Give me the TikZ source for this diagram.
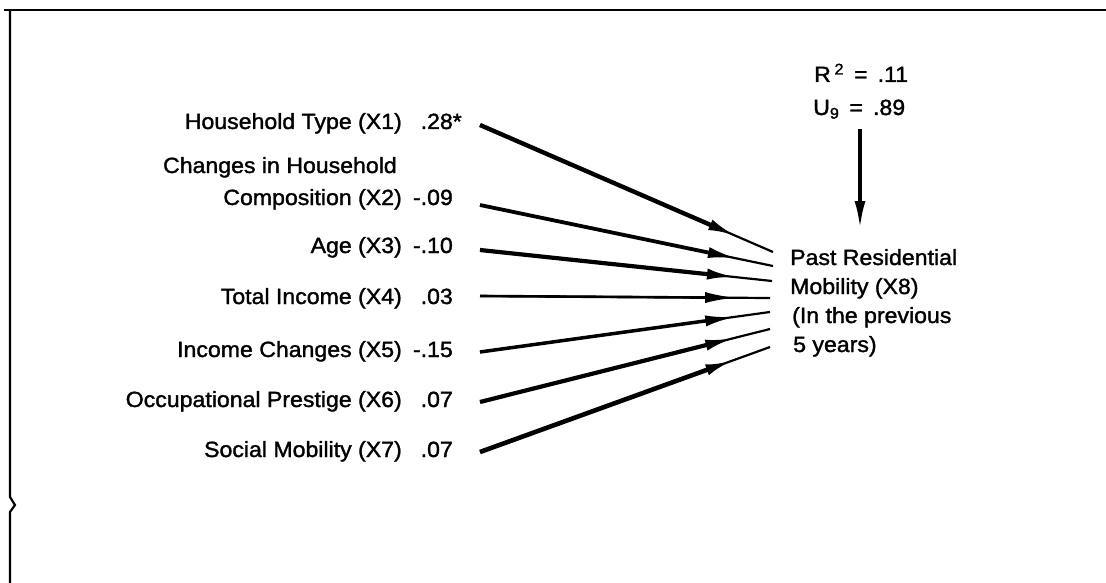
\documentclass[tikz,border=0pt]{standalone}
\usepackage{fontspec}
\setmainfont{Liberation Sans}[FakeStretch=1.05,FakeBold=1.5]
\usetikzlibrary{arrows.meta,calc}
\begin{document}
\begin{tikzpicture}[x=1pt,y=-1pt,
  lbl/.style={anchor=base east,inner sep=0pt,font=\fontsize{22}{26}\selectfont},
  num/.style={anchor=base east,inner sep=0pt,font=\fontsize{22}{26}\selectfont},
  txt/.style={anchor=base west,inner sep=0pt,font=\fontsize{22}{26}\selectfont},
  conn/.style={line width=3.3pt,-{Latex[length=30pt,width=11pt]}},
  thin/.style={line width=2.2pt},
  frame/.style={line width=2.8pt}]
\useasboundingbox (0,0) rectangle (1106,583);
% frame
\coordinate (f1) at (4,10);
\coordinate (f2) at (1106,10);
\coordinate (f3) at (10,10);
\coordinate (f4) at (10,497);
\coordinate (f5) at (15,505);
\coordinate (f6) at (10,512);
\coordinate (f7) at (10,583);
\draw[frame] (f1) -- (f2);
\draw[line width=2.2pt] (f3) -- (f4) -- (f5) -- (f6) -- (f7);
% labels
\node[lbl] (l1) at (402,129) {Household Type (X1)};
\node[lbl] (l2a) at (397,173) {Changes in Household};
\node[lbl] (l2) at (402,205) {Composition (X2)};
\node[lbl] (l3) at (402,253) {Age (X3)};
\node[lbl] (l4) at (402,304) {Total Income (X4)};
\node[lbl] (l5) at (402,357) {Income Changes (X5)};
\node[lbl] (l6) at (402,407) {Occupational Prestige (X6)};
\node[lbl] (l7) at (402,457) {Social Mobility (X7)};
% coefficients
\node[num] (n1) at (453,129) {.28\rlap{*}};
\node[num] (n2) at (453,205) {-.09};
\node[num] (n3) at (453,253) {-.10};
\node[num] (n4) at (453,304) {.03};
\node[num] (n5) at (453,357) {-.15};
\node[num] (n6) at (453,407) {.07};
\node[num] (n7) at (453,457) {.07};
% target
\node[txt] (t1) at (790,265) {Past Residential};
\node[txt] (t2) at (790,294) {Mobility (X8)};
\node[txt] (t3) at (792,323) {(In the previous};
\node[txt] (t4) at (793,352) {5 years)};
% residual
\node[txt] (r) at (814,82) {R\,\textsuperscript{2}\, = \,.11};
\node[txt] (u) at (813,115) {U\textsubscript{9}\, = \,.89};
\coordinate (ua) at (860,129);
\coordinate (ub) at (860,229);
\draw[line width=3.5pt,-{Latex[length=28pt,width=11pt]}] (ua) -- (ub);
% arrows
\coordinate (s1) at (480,125); \coordinate (e1) at (773,252);
\coordinate (s2) at (480,205); \coordinate (e2) at (773,266);
\coordinate (s3) at (480,250); \coordinate (e3) at (772,281);
\coordinate (s4) at (480,296); \coordinate (e4) at (770,298);
\coordinate (s5) at (480,352); \coordinate (e5) at (770,312);
\coordinate (s6) at (480,402); \coordinate (e6) at (770,329);
\coordinate (s7) at (480,452); \coordinate (e7) at (770,347);
\foreach \i/\w in {1/4.4,2/3.8,3/4.2,4/2.6,5/3.5,6/4.2,7/4.6} {
  \coordinate (m\i) at ($(s\i)!0.88!(e\i)$);
  \draw[thin] (s\i) -- (e\i);
  \draw[conn,line width=\w pt] (s\i) -- (m\i);
}
\end{tikzpicture}
\end{document}
